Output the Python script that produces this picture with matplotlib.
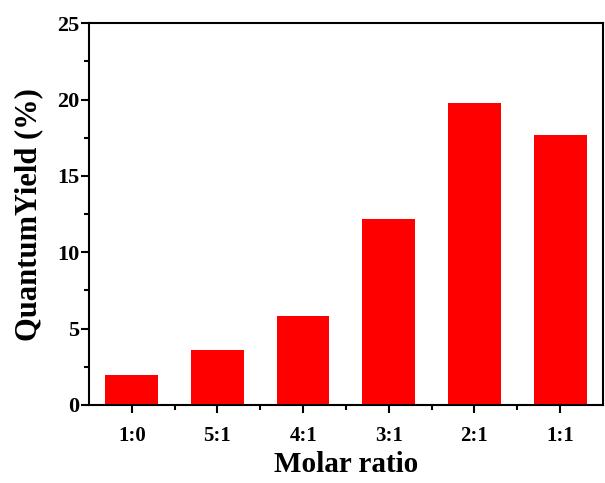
import matplotlib
matplotlib.use('Agg')
import matplotlib.pyplot as plt
from matplotlib.ticker import MultipleLocator, FixedLocator

# Data
ratios = ['1:0', '5:1', '4:1', '3:1', '2:1', '1:1']
quantum_yield = [1.95, 3.62, 5.85, 12.15, 19.8, 17.65]

plt.rcParams['font.family'] = ['Liberation Serif', 'DejaVu Serif']
plt.rcParams['font.weight'] = 'bold'

fig = plt.figure(figsize=(6.05, 4.83), dpi=100)
ax = fig.add_axes([0.147, 0.1615, 0.8497, 0.7905])

x = list(range(len(ratios)))
ax.bar(x, quantum_yield, width=0.615, color='#ff0000', edgecolor='none')

ax.set_xlim(-0.5, 5.5)
ax.set_ylim(0, 25)
ax.set_xticks(x)
ax.set_xticklabels(ratios)
ax.xaxis.set_minor_locator(FixedLocator([i + 0.5 for i in x[:-1]]))
ax.yaxis.set_major_locator(MultipleLocator(5))
ax.yaxis.set_minor_locator(MultipleLocator(2.5))

for s in ax.spines.values():
    s.set_linewidth(1.5)

ax.tick_params(axis='both', which='major', direction='out', width=1.5, length=6)
ax.tick_params(axis='both', which='minor', direction='out', width=1.5, length=3.5)
ax.tick_params(axis='y', which='major', length=6, labelsize=16, pad=1)
ax.tick_params(axis='x', which='major', labelsize=15, pad=9)
for lab in ax.get_xticklabels() + ax.get_yticklabels():
    lab.set_fontweight('bold')

ax.set_xlabel('Molar ratio', fontsize=21, fontweight='bold', labelpad=4)
ax.set_ylabel('QuantumYield (%)', fontsize=22, fontweight='bold', labelpad=10)

fig.savefig('out.png', dpi=100)
